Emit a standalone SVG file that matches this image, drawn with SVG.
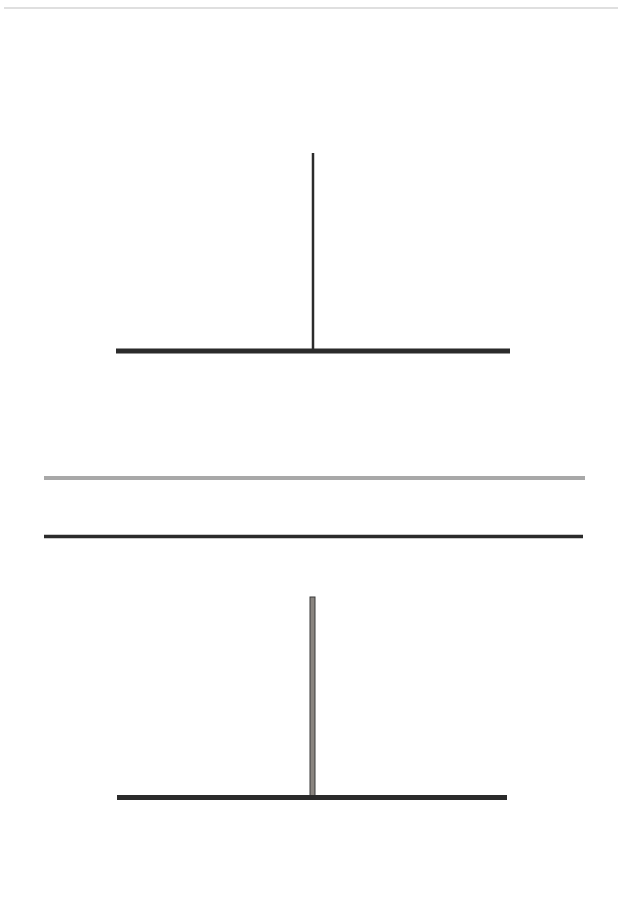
<svg xmlns="http://www.w3.org/2000/svg" width="618" height="912" viewBox="0 0 618 912">
<style>
.dark{stroke:#2b2b2b;stroke-linecap:butt}
</style>
<rect width="618" height="912" fill="#ffffff"/>
<line x1="4" y1="8" x2="618" y2="8" stroke="#d4d4d4" stroke-width="1.5"/>
<g id="top-figure">
<line class="dark" x1="313" y1="153" x2="313" y2="351" stroke-width="2.5"/>
<line class="dark" x1="116" y1="351" x2="510" y2="351" stroke-width="5"/>
</g>
<g id="middle-lines">
<line x1="44" y1="478" x2="585" y2="478" stroke="#a8a8a8" stroke-width="4"/>
<line class="dark" x1="44" y1="536.5" x2="583" y2="536.5" stroke-width="3.5"/>
</g>
<g id="bottom-figure">
<rect x="310" y="597" width="5" height="200" fill="#8a8580" stroke="#3a3a3a" stroke-width="1"/>
<line class="dark" x1="117" y1="797.5" x2="507" y2="797.5" stroke-width="5"/>
</g>
</svg>
